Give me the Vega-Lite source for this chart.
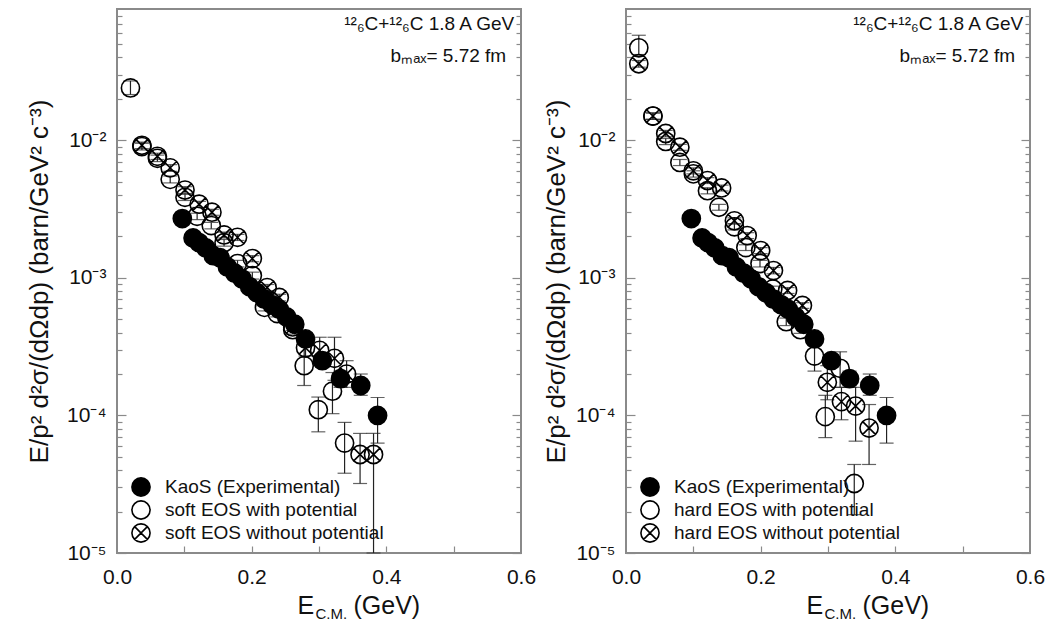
{
  "$schema": "https://vega.github.io/schema/vega-lite/v6.json",
  "padding": {"left": 25, "top": 8, "right": 5, "bottom": 5},
  "background": "white",
  "bounds": "flush",
  "spacing": 105,
  "datasets": {
    "left": [
      {"s": "soft EOS with potential", "E": 0.020, "v": 2.4e-2, "lo": 2.15e-2, "hi": 2.7e-2},
      {"s": "soft EOS with potential", "E": 0.037, "v": 9.0e-3, "lo": 8.5e-3, "hi": 9.5e-3},
      {"s": "soft EOS with potential", "E": 0.060, "v": 7.4e-3, "lo": 7.0e-3, "hi": 7.8e-3},
      {"s": "soft EOS with potential", "E": 0.079, "v": 5.2e-3, "lo": 4.9e-3, "hi": 5.5e-3},
      {"s": "soft EOS with potential", "E": 0.101, "v": 3.85e-3, "lo": 3.65e-3, "hi": 4.05e-3},
      {"s": "soft EOS with potential", "E": 0.119, "v": 2.8e-3, "lo": 2.65e-3, "hi": 2.95e-3},
      {"s": "soft EOS with potential", "E": 0.140, "v": 2.4e-3, "lo": 2.27e-3, "hi": 2.53e-3},
      {"s": "soft EOS with potential", "E": 0.159, "v": 1.8e-3, "lo": 1.7e-3, "hi": 1.9e-3},
      {"s": "soft EOS with potential", "E": 0.179, "v": 1.27e-3, "lo": 1.2e-3, "hi": 1.34e-3},
      {"s": "soft EOS with potential", "E": 0.201, "v": 1.04e-3, "lo": 9.8e-4, "hi": 1.1e-3},
      {"s": "soft EOS with potential", "E": 0.219, "v": 6.1e-4, "lo": 5.75e-4, "hi": 6.45e-4},
      {"s": "soft EOS with potential", "E": 0.238, "v": 5.5e-4, "lo": 5.2e-4, "hi": 5.8e-4},
      {"s": "soft EOS with potential", "E": 0.261, "v": 4.2e-4, "lo": 3.9e-4, "hi": 4.5e-4},
      {"s": "soft EOS with potential", "E": 0.278, "v": 2.3e-4, "lo": 1.65e-4, "hi": 3.6e-4},
      {"s": "soft EOS with potential", "E": 0.299, "v": 1.1e-4, "lo": 7.6e-5, "hi": 1.36e-4},
      {"s": "soft EOS with potential", "E": 0.320, "v": 1.5e-4, "lo": 1.03e-4, "hi": 2.05e-4},
      {"s": "soft EOS with potential", "E": 0.338, "v": 6.3e-5, "lo": 3.8e-5, "hi": 8.9e-5},
      {"s": "soft EOS without potential", "E": 0.037, "v": 9.2e-3, "lo": 8.7e-3, "hi": 9.7e-3},
      {"s": "soft EOS without potential", "E": 0.060, "v": 7.65e-3, "lo": 7.25e-3, "hi": 8.05e-3},
      {"s": "soft EOS without potential", "E": 0.079, "v": 6.3e-3, "lo": 5.95e-3, "hi": 6.65e-3},
      {"s": "soft EOS without potential", "E": 0.101, "v": 4.35e-3, "lo": 4.1e-3, "hi": 4.6e-3},
      {"s": "soft EOS without potential", "E": 0.122, "v": 3.43e-3, "lo": 3.25e-3, "hi": 3.6e-3},
      {"s": "soft EOS without potential", "E": 0.141, "v": 3.0e-3, "lo": 2.85e-3, "hi": 3.15e-3},
      {"s": "soft EOS without potential", "E": 0.159, "v": 2.05e-3, "lo": 1.95e-3, "hi": 2.15e-3},
      {"s": "soft EOS without potential", "E": 0.179, "v": 1.97e-3, "lo": 1.87e-3, "hi": 2.07e-3},
      {"s": "soft EOS without potential", "E": 0.201, "v": 1.38e-3, "lo": 1.31e-3, "hi": 1.45e-3},
      {"s": "soft EOS without potential", "E": 0.223, "v": 8.5e-4, "lo": 8.05e-4, "hi": 8.95e-4},
      {"s": "soft EOS without potential", "E": 0.241, "v": 7.2e-4, "lo": 6.8e-4, "hi": 7.6e-4},
      {"s": "soft EOS without potential", "E": 0.261, "v": 4.4e-4, "lo": 4.15e-4, "hi": 4.65e-4},
      {"s": "soft EOS without potential", "E": 0.280, "v": 3.1e-4, "lo": 2.7e-4, "hi": 3.5e-4},
      {"s": "soft EOS without potential", "E": 0.301, "v": 2.97e-4, "lo": 2.4e-4, "hi": 3.7e-4},
      {"s": "soft EOS without potential", "E": 0.323, "v": 2.6e-4, "lo": 1.8e-4, "hi": 3.7e-4},
      {"s": "soft EOS without potential", "E": 0.341, "v": 2.0e-4, "lo": 1.6e-4, "hi": 2.5e-4},
      {"s": "soft EOS without potential", "E": 0.361, "v": 5.2e-5, "lo": 3.2e-5, "hi": 7.4e-5},
      {"s": "soft EOS without potential", "E": 0.381, "v": 5.2e-5, "lo": 1.0e-5, "hi": 7.4e-5},
      {"s": "KaoS (Experimental)", "E": 0.097, "v": 2.7e-3, "lo": 2.55e-3, "hi": 2.85e-3},
      {"s": "KaoS (Experimental)", "E": 0.113, "v": 1.95e-3, "lo": 1.85e-3, "hi": 2.05e-3},
      {"s": "KaoS (Experimental)", "E": 0.122, "v": 1.8e-3, "lo": 1.71e-3, "hi": 1.89e-3},
      {"s": "KaoS (Experimental)", "E": 0.132, "v": 1.65e-3, "lo": 1.57e-3, "hi": 1.73e-3},
      {"s": "KaoS (Experimental)", "E": 0.143, "v": 1.45e-3, "lo": 1.38e-3, "hi": 1.52e-3},
      {"s": "KaoS (Experimental)", "E": 0.153, "v": 1.4e-3, "lo": 1.33e-3, "hi": 1.47e-3},
      {"s": "KaoS (Experimental)", "E": 0.164, "v": 1.2e-3, "lo": 1.14e-3, "hi": 1.26e-3},
      {"s": "KaoS (Experimental)", "E": 0.175, "v": 1.08e-3, "lo": 1.03e-3, "hi": 1.13e-3},
      {"s": "KaoS (Experimental)", "E": 0.186, "v": 9.8e-4, "lo": 9.3e-4, "hi": 1.03e-3},
      {"s": "KaoS (Experimental)", "E": 0.197, "v": 8.6e-4, "lo": 8.2e-4, "hi": 9.0e-4},
      {"s": "KaoS (Experimental)", "E": 0.208, "v": 7.8e-4, "lo": 7.4e-4, "hi": 8.2e-4},
      {"s": "KaoS (Experimental)", "E": 0.219, "v": 7.0e-4, "lo": 6.6e-4, "hi": 7.4e-4},
      {"s": "KaoS (Experimental)", "E": 0.230, "v": 6.4e-4, "lo": 6.1e-4, "hi": 6.7e-4},
      {"s": "KaoS (Experimental)", "E": 0.241, "v": 5.9e-4, "lo": 5.6e-4, "hi": 6.2e-4},
      {"s": "KaoS (Experimental)", "E": 0.252, "v": 5.2e-4, "lo": 4.9e-4, "hi": 5.5e-4},
      {"s": "KaoS (Experimental)", "E": 0.264, "v": 4.6e-4, "lo": 4.35e-4, "hi": 4.85e-4},
      {"s": "KaoS (Experimental)", "E": 0.280, "v": 3.6e-4, "lo": 3.3e-4, "hi": 3.9e-4},
      {"s": "KaoS (Experimental)", "E": 0.305, "v": 2.5e-4, "lo": 2.25e-4, "hi": 2.75e-4},
      {"s": "KaoS (Experimental)", "E": 0.332, "v": 1.85e-4, "lo": 1.6e-4, "hi": 2.1e-4},
      {"s": "KaoS (Experimental)", "E": 0.362, "v": 1.65e-4, "lo": 1.4e-4, "hi": 2.0e-4},
      {"s": "KaoS (Experimental)", "E": 0.387, "v": 1.0e-4, "lo": 6.3e-5, "hi": 1.35e-4}
    ],
    "right": [
      {"s": "hard EOS with potential", "E": 0.019, "v": 4.7e-2, "lo": 4.2e-2, "hi": 5.8e-2},
      {"s": "hard EOS with potential", "E": 0.040, "v": 1.5e-2, "lo": 1.42e-2, "hi": 1.58e-2},
      {"s": "hard EOS with potential", "E": 0.059, "v": 9.8e-3, "lo": 9.3e-3, "hi": 1.03e-2},
      {"s": "hard EOS with potential", "E": 0.080, "v": 6.9e-3, "lo": 6.55e-3, "hi": 7.25e-3},
      {"s": "hard EOS with potential", "E": 0.100, "v": 5.7e-3, "lo": 5.4e-3, "hi": 6.0e-3},
      {"s": "hard EOS with potential", "E": 0.121, "v": 4.3e-3, "lo": 4.08e-3, "hi": 4.52e-3},
      {"s": "hard EOS with potential", "E": 0.138, "v": 3.26e-3, "lo": 3.1e-3, "hi": 3.42e-3},
      {"s": "hard EOS with potential", "E": 0.161, "v": 2.35e-3, "lo": 2.23e-3, "hi": 2.47e-3},
      {"s": "hard EOS with potential", "E": 0.178, "v": 1.66e-3, "lo": 1.58e-3, "hi": 1.74e-3},
      {"s": "hard EOS with potential", "E": 0.199, "v": 1.27e-3, "lo": 1.2e-3, "hi": 1.34e-3},
      {"s": "hard EOS with potential", "E": 0.218, "v": 8.3e-4, "lo": 7.9e-4, "hi": 8.7e-4},
      {"s": "hard EOS with potential", "E": 0.238, "v": 4.8e-4, "lo": 4.5e-4, "hi": 5.1e-4},
      {"s": "hard EOS with potential", "E": 0.259, "v": 4.2e-4, "lo": 3.95e-4, "hi": 4.45e-4},
      {"s": "hard EOS with potential", "E": 0.280, "v": 2.7e-4, "lo": 2.1e-4, "hi": 3.5e-4},
      {"s": "hard EOS with potential", "E": 0.296, "v": 9.8e-5, "lo": 6.9e-5, "hi": 1.4e-4},
      {"s": "hard EOS with potential", "E": 0.318, "v": 2.2e-4, "lo": 1.6e-4, "hi": 2.9e-4},
      {"s": "hard EOS with potential", "E": 0.339, "v": 3.2e-5, "lo": 1.9e-5, "hi": 4.4e-5},
      {"s": "hard EOS without potential", "E": 0.019, "v": 3.6e-2, "lo": 3.4e-2, "hi": 3.8e-2},
      {"s": "hard EOS without potential", "E": 0.040, "v": 1.5e-2, "lo": 1.42e-2, "hi": 1.58e-2},
      {"s": "hard EOS without potential", "E": 0.059, "v": 1.12e-2, "lo": 1.06e-2, "hi": 1.18e-2},
      {"s": "hard EOS without potential", "E": 0.080, "v": 8.9e-3, "lo": 8.45e-3, "hi": 9.35e-3},
      {"s": "hard EOS without potential", "E": 0.100, "v": 6.0e-3, "lo": 5.7e-3, "hi": 6.3e-3},
      {"s": "hard EOS without potential", "E": 0.121, "v": 5.1e-3, "lo": 4.85e-3, "hi": 5.35e-3},
      {"s": "hard EOS without potential", "E": 0.142, "v": 4.5e-3, "lo": 4.28e-3, "hi": 4.72e-3},
      {"s": "hard EOS without potential", "E": 0.161, "v": 2.6e-3, "lo": 2.47e-3, "hi": 2.73e-3},
      {"s": "hard EOS without potential", "E": 0.180, "v": 2.03e-3, "lo": 1.93e-3, "hi": 2.13e-3},
      {"s": "hard EOS without potential", "E": 0.200, "v": 1.58e-3, "lo": 1.5e-3, "hi": 1.66e-3},
      {"s": "hard EOS without potential", "E": 0.219, "v": 1.13e-3, "lo": 1.07e-3, "hi": 1.19e-3},
      {"s": "hard EOS without potential", "E": 0.240, "v": 8.1e-4, "lo": 7.7e-4, "hi": 8.5e-4},
      {"s": "hard EOS without potential", "E": 0.262, "v": 6.3e-4, "lo": 6.0e-4, "hi": 6.6e-4},
      {"s": "hard EOS without potential", "E": 0.299, "v": 1.74e-4, "lo": 1.3e-4, "hi": 2.3e-4},
      {"s": "hard EOS without potential", "E": 0.320, "v": 1.26e-4, "lo": 9.3e-5, "hi": 1.6e-4},
      {"s": "hard EOS without potential", "E": 0.341, "v": 1.17e-4, "lo": 6.5e-5, "hi": 1.6e-4},
      {"s": "hard EOS without potential", "E": 0.361, "v": 8.1e-5, "lo": 4.4e-5, "hi": 1.2e-4},
      {"s": "KaoS (Experimental)", "E": 0.097, "v": 2.7e-3, "lo": 2.55e-3, "hi": 2.85e-3},
      {"s": "KaoS (Experimental)", "E": 0.113, "v": 1.95e-3, "lo": 1.85e-3, "hi": 2.05e-3},
      {"s": "KaoS (Experimental)", "E": 0.122, "v": 1.8e-3, "lo": 1.71e-3, "hi": 1.89e-3},
      {"s": "KaoS (Experimental)", "E": 0.132, "v": 1.65e-3, "lo": 1.57e-3, "hi": 1.73e-3},
      {"s": "KaoS (Experimental)", "E": 0.143, "v": 1.45e-3, "lo": 1.38e-3, "hi": 1.52e-3},
      {"s": "KaoS (Experimental)", "E": 0.153, "v": 1.4e-3, "lo": 1.33e-3, "hi": 1.47e-3},
      {"s": "KaoS (Experimental)", "E": 0.164, "v": 1.2e-3, "lo": 1.14e-3, "hi": 1.26e-3},
      {"s": "KaoS (Experimental)", "E": 0.175, "v": 1.08e-3, "lo": 1.03e-3, "hi": 1.13e-3},
      {"s": "KaoS (Experimental)", "E": 0.186, "v": 9.8e-4, "lo": 9.3e-4, "hi": 1.03e-3},
      {"s": "KaoS (Experimental)", "E": 0.197, "v": 8.6e-4, "lo": 8.2e-4, "hi": 9.0e-4},
      {"s": "KaoS (Experimental)", "E": 0.208, "v": 7.8e-4, "lo": 7.4e-4, "hi": 8.2e-4},
      {"s": "KaoS (Experimental)", "E": 0.219, "v": 7.0e-4, "lo": 6.6e-4, "hi": 7.4e-4},
      {"s": "KaoS (Experimental)", "E": 0.230, "v": 6.4e-4, "lo": 6.1e-4, "hi": 6.7e-4},
      {"s": "KaoS (Experimental)", "E": 0.241, "v": 5.9e-4, "lo": 5.6e-4, "hi": 6.2e-4},
      {"s": "KaoS (Experimental)", "E": 0.252, "v": 5.2e-4, "lo": 4.9e-4, "hi": 5.5e-4},
      {"s": "KaoS (Experimental)", "E": 0.264, "v": 4.6e-4, "lo": 4.35e-4, "hi": 4.85e-4},
      {"s": "KaoS (Experimental)", "E": 0.280, "v": 3.6e-4, "lo": 3.3e-4, "hi": 3.9e-4},
      {"s": "KaoS (Experimental)", "E": 0.305, "v": 2.5e-4, "lo": 2.25e-4, "hi": 2.75e-4},
      {"s": "KaoS (Experimental)", "E": 0.332, "v": 1.85e-4, "lo": 1.6e-4, "hi": 2.1e-4},
      {"s": "KaoS (Experimental)", "E": 0.362, "v": 1.65e-4, "lo": 1.4e-4, "hi": 2.0e-4},
      {"s": "KaoS (Experimental)", "E": 0.387, "v": 1.0e-4, "lo": 6.3e-5, "hi": 1.35e-4}
    ],
    "note1": [{"E": 0.59, "v": 0.063, "t": "¹²₆C+¹²₆C 1.8 A GeV"}],
    "note2": [{"E": 0.578, "v": 0.037, "t": "bₘₐₓ= 5.72 fm"}]
  },
  "hconcat": [
    {
      "width": 404,
      "height": 544,
      "data": {"name": "left"},
      "layer": [
        {
          "mark": {"type": "rule", "color": "#222", "strokeWidth": 1.2},
          "encoding": {
            "x": {"field": "E", "type": "quantitative", "scale": {"domain": [0, 0.6], "nice": false, "zero": false},
              "axis": {"orient": "bottom", "values": [0, 0.2, 0.4, 0.6], "format": ".1f", "ticks": false, "labelFontSize": 21, "labelPadding": 13, "title": "E", "titleFontSize": 25, "titleX": 180, "titleY": 60, "titleAlign": "left", "titleBaseline": "alphabetic"}},
            "y": {"field": "lo", "type": "quantitative", "scale": {"type": "log", "domain": [1e-5, 0.09], "nice": false},
              "axis": {"orient": "left", "values": [1e-5, 1e-4, 1e-3, 1e-2], "labelExpr": "datum.value < 5e-5 ? '10⁻⁵' : datum.value < 5e-4 ? '10⁻⁴' : datum.value < 5e-3 ? '10⁻³' : '10⁻²'", "ticks": false, "labelFontSize": 21, "labelPadding": 11, "title": "E/p² d²σ/(dΩdp) (barn/GeV² c⁻³)", "titleFontSize": 26, "titlePadding": 14}},
            "y2": {"field": "hi"}
          }
        },
        {
          "transform": [{"fold": ["lo", "hi"], "as": ["k", "cap"]}],
          "mark": {"type": "tick", "orient": "horizontal", "size": 14, "thickness": 1.2, "color": "#222"},
          "encoding": {
            "x": {"field": "E", "type": "quantitative", "scale": {"domain": [0, 0.6], "nice": false, "zero": false}, "axis": null},
            "y": {"field": "cap", "type": "quantitative", "scale": {"type": "log", "domain": [1e-5, 0.09], "nice": false},
              "axis": {"orient": "left", "values": [1e-5, 1e-4, 1e-3, 1e-2], "labels": false, "ticks": true, "tickSize": 9, "offset": -9, "title": null}}
          }
        },
        {
          "mark": {"type": "point", "strokeWidth": 1.6, "size": 330, "opacity": 1},
          "encoding": {
            "x": {"field": "E", "type": "quantitative", "scale": {"domain": [0, 0.6], "nice": false, "zero": false},
              "axis": {"orient": "bottom", "values": [0.1, 0.2, 0.3, 0.4, 0.5], "labels": false, "ticks": true, "tickSize": 7, "offset": -7, "title": "C.M.", "titleFontSize": 15, "titleX": 198, "titleY": 72, "titleAlign": "left", "titleBaseline": "alphabetic"}},
            "y": {"field": "v", "type": "quantitative", "scale": {"type": "log", "domain": [1e-5, 0.09], "nice": false},
              "axis": {"orient": "left", "values": [2e-5, 3e-5, 4e-5, 5e-5, 6e-5, 7e-5, 8e-5, 9e-5, 2e-4, 3e-4, 4e-4, 5e-4, 6e-4, 7e-4, 8e-4, 9e-4, 2e-3, 3e-3, 4e-3, 5e-3, 6e-3, 7e-3, 8e-3, 9e-3, 2e-2, 3e-2, 4e-2, 5e-2, 6e-2, 7e-2, 8e-2], "labels": false, "ticks": true, "tickSize": 5, "offset": -5, "title": null}},
            "shape": {"field": "s", "type": "nominal",
              "scale": {"domain": ["KaoS (Experimental)", "soft EOS with potential", "soft EOS without potential"], "range": ["circle", "circle", "M-1,0A1,1,0,1,0,1,0A1,1,0,1,0,-1,0ZM-0.7,-0.7L0.7,0.7M-0.7,0.7L0.7,-0.7"]},
              "legend": {"title": null, "orient": "none", "legendX": 14, "legendY": 468}},
            "fill": {"field": "s", "type": "nominal",
              "scale": {"domain": ["KaoS (Experimental)", "soft EOS with potential", "soft EOS without potential"], "range": ["black", "transparent", "transparent"]},
              "legend": {"title": null, "orient": "none", "legendX": 14, "legendY": 468}},
            "stroke": {"field": "s", "type": "nominal",
              "scale": {"domain": ["KaoS (Experimental)", "soft EOS with potential", "soft EOS without potential"], "range": ["black", "black", "black"]},
              "legend": {"title": null, "orient": "none", "legendX": 14, "legendY": 468}}
          }
        },
        {
          "data": {"name": "note1"},
          "mark": {"type": "text", "align": "right", "baseline": "alphabetic", "fontSize": 19, "color": "#111"},
          "encoding": {
            "x": {"field": "E", "type": "quantitative", "scale": {"domain": [0, 0.6], "nice": false, "zero": false},
              "axis": {"orient": "bottom", "labels": false, "ticks": false, "title": "(GeV)", "titleFontSize": 25, "titleX": 236, "titleY": 60, "titleAlign": "left", "titleBaseline": "alphabetic"}},
            "y": {"field": "v", "type": "quantitative", "scale": {"type": "log", "domain": [1e-5, 0.09], "nice": false},
              "axis": {"orient": "right", "values": [1e-5, 1e-4, 1e-3, 1e-2], "labels": false, "ticks": true, "tickSize": 9, "offset": -9, "title": null}},
            "text": {"field": "t"}
          }
        },
        {
          "data": {"name": "note2"},
          "mark": {"type": "text", "align": "right", "baseline": "alphabetic", "fontSize": 19, "color": "#111"},
          "encoding": {
            "x": {"field": "E", "type": "quantitative", "scale": {"domain": [0, 0.6], "nice": false, "zero": false}, "axis": null},
            "y": {"field": "v", "type": "quantitative", "scale": {"type": "log", "domain": [1e-5, 0.09], "nice": false},
              "axis": {"orient": "right", "values": [2e-5, 3e-5, 4e-5, 5e-5, 6e-5, 7e-5, 8e-5, 9e-5, 2e-4, 3e-4, 4e-4, 5e-4, 6e-4, 7e-4, 8e-4, 9e-4, 2e-3, 3e-3, 4e-3, 5e-3, 6e-3, 7e-3, 8e-3, 9e-3, 2e-2, 3e-2, 4e-2, 5e-2, 6e-2, 7e-2, 8e-2], "labels": false, "ticks": true, "tickSize": 5, "offset": -5, "title": null}},
            "text": {"field": "t"}
          }
        }
      ],
      "resolve": {"axis": {"x": "independent", "y": "independent"}}
    },
    {
      "width": 404,
      "height": 544,
      "data": {"name": "right"},
      "layer": [
        {
          "mark": {"type": "rule", "color": "#222", "strokeWidth": 1.2},
          "encoding": {
            "x": {"field": "E", "type": "quantitative", "scale": {"domain": [0, 0.6], "nice": false, "zero": false},
              "axis": {"orient": "bottom", "values": [0, 0.2, 0.4, 0.6], "format": ".1f", "ticks": false, "labelFontSize": 21, "labelPadding": 13, "title": "E", "titleFontSize": 25, "titleX": 180, "titleY": 60, "titleAlign": "left", "titleBaseline": "alphabetic"}},
            "y": {"field": "lo", "type": "quantitative", "scale": {"type": "log", "domain": [1e-5, 0.09], "nice": false},
              "axis": {"orient": "left", "values": [1e-5, 1e-4, 1e-3, 1e-2], "labelExpr": "datum.value < 5e-5 ? '10⁻⁵' : datum.value < 5e-4 ? '10⁻⁴' : datum.value < 5e-3 ? '10⁻³' : '10⁻²'", "ticks": false, "labelFontSize": 21, "labelPadding": 11, "title": "E/p² d²σ/(dΩdp) (barn/GeV² c⁻³)", "titleFontSize": 26, "titlePadding": 6}},
            "y2": {"field": "hi"}
          }
        },
        {
          "transform": [{"fold": ["lo", "hi"], "as": ["k", "cap"]}],
          "mark": {"type": "tick", "orient": "horizontal", "size": 14, "thickness": 1.2, "color": "#222"},
          "encoding": {
            "x": {"field": "E", "type": "quantitative", "scale": {"domain": [0, 0.6], "nice": false, "zero": false}, "axis": null},
            "y": {"field": "cap", "type": "quantitative", "scale": {"type": "log", "domain": [1e-5, 0.09], "nice": false},
              "axis": {"orient": "left", "values": [1e-5, 1e-4, 1e-3, 1e-2], "labels": false, "ticks": true, "tickSize": 9, "offset": -9, "title": null}}
          }
        },
        {
          "mark": {"type": "point", "strokeWidth": 1.6, "size": 330, "opacity": 1},
          "encoding": {
            "x": {"field": "E", "type": "quantitative", "scale": {"domain": [0, 0.6], "nice": false, "zero": false},
              "axis": {"orient": "bottom", "values": [0.1, 0.2, 0.3, 0.4, 0.5], "labels": false, "ticks": true, "tickSize": 7, "offset": -7, "title": "C.M.", "titleFontSize": 15, "titleX": 198, "titleY": 72, "titleAlign": "left", "titleBaseline": "alphabetic"}},
            "y": {"field": "v", "type": "quantitative", "scale": {"type": "log", "domain": [1e-5, 0.09], "nice": false},
              "axis": {"orient": "left", "values": [2e-5, 3e-5, 4e-5, 5e-5, 6e-5, 7e-5, 8e-5, 9e-5, 2e-4, 3e-4, 4e-4, 5e-4, 6e-4, 7e-4, 8e-4, 9e-4, 2e-3, 3e-3, 4e-3, 5e-3, 6e-3, 7e-3, 8e-3, 9e-3, 2e-2, 3e-2, 4e-2, 5e-2, 6e-2, 7e-2, 8e-2], "labels": false, "ticks": true, "tickSize": 5, "offset": -5, "title": null}},
            "shape": {"field": "s", "type": "nominal",
              "scale": {"domain": ["KaoS (Experimental)", "hard EOS with potential", "hard EOS without potential"], "range": ["circle", "circle", "M-1,0A1,1,0,1,0,1,0A1,1,0,1,0,-1,0ZM-0.7,-0.7L0.7,0.7M-0.7,0.7L0.7,-0.7"]},
              "legend": {"title": null, "orient": "none", "legendX": 14, "legendY": 468}},
            "fill": {"field": "s", "type": "nominal",
              "scale": {"domain": ["KaoS (Experimental)", "hard EOS with potential", "hard EOS without potential"], "range": ["black", "transparent", "transparent"]},
              "legend": {"title": null, "orient": "none", "legendX": 14, "legendY": 468}},
            "stroke": {"field": "s", "type": "nominal",
              "scale": {"domain": ["KaoS (Experimental)", "hard EOS with potential", "hard EOS without potential"], "range": ["black", "black", "black"]},
              "legend": {"title": null, "orient": "none", "legendX": 14, "legendY": 468}}
          }
        },
        {
          "data": {"name": "note1"},
          "mark": {"type": "text", "align": "right", "baseline": "alphabetic", "fontSize": 19, "color": "#111"},
          "encoding": {
            "x": {"field": "E", "type": "quantitative", "scale": {"domain": [0, 0.6], "nice": false, "zero": false},
              "axis": {"orient": "bottom", "labels": false, "ticks": false, "title": "(GeV)", "titleFontSize": 25, "titleX": 236, "titleY": 60, "titleAlign": "left", "titleBaseline": "alphabetic"}},
            "y": {"field": "v", "type": "quantitative", "scale": {"type": "log", "domain": [1e-5, 0.09], "nice": false},
              "axis": {"orient": "right", "values": [1e-5, 1e-4, 1e-3, 1e-2], "labels": false, "ticks": true, "tickSize": 9, "offset": -9, "title": null}},
            "text": {"field": "t"}
          }
        },
        {
          "data": {"name": "note2"},
          "mark": {"type": "text", "align": "right", "baseline": "alphabetic", "fontSize": 19, "color": "#111"},
          "encoding": {
            "x": {"field": "E", "type": "quantitative", "scale": {"domain": [0, 0.6], "nice": false, "zero": false}, "axis": null},
            "y": {"field": "v", "type": "quantitative", "scale": {"type": "log", "domain": [1e-5, 0.09], "nice": false},
              "axis": {"orient": "right", "values": [2e-5, 3e-5, 4e-5, 5e-5, 6e-5, 7e-5, 8e-5, 9e-5, 2e-4, 3e-4, 4e-4, 5e-4, 6e-4, 7e-4, 8e-4, 9e-4, 2e-3, 3e-3, 4e-3, 5e-3, 6e-3, 7e-3, 8e-3, 9e-3, 2e-2, 3e-2, 4e-2, 5e-2, 6e-2, 7e-2, 8e-2], "labels": false, "ticks": true, "tickSize": 5, "offset": -5, "title": null}},
            "text": {"field": "t"}
          }
        }
      ],
      "resolve": {"axis": {"x": "independent", "y": "independent"}}
    }
  ],
  "resolve": {"scale": {"shape": "independent", "fill": "independent", "stroke": "independent"}, "legend": {"shape": "independent", "fill": "independent", "stroke": "independent"}},
  "config": {
    "font": "Liberation Sans",
    "view": {"stroke": "#8a8a8a", "strokeWidth": 2},
    "axis": {"grid": false, "domain": false, "labelFont": "Liberation Sans", "labelColor": "#111", "titleFont": "Liberation Sans", "titleFontWeight": "normal", "titleColor": "#111", "tickColor": "#8a8a8a", "tickWidth": 1.2, "labelFlush": false, "labelOverlap": false},
    "legend": {"labelFont": "Liberation Sans", "labelFontSize": 19, "labelColor": "#111", "labelLimit": 0, "symbolStrokeWidth": 1.6, "symbolSize": 330, "symbolOpacity": 1, "rowPadding": -3, "labelOffset": 14, "padding": 0},
    "text": {"font": "Liberation Sans"}
  }
}
